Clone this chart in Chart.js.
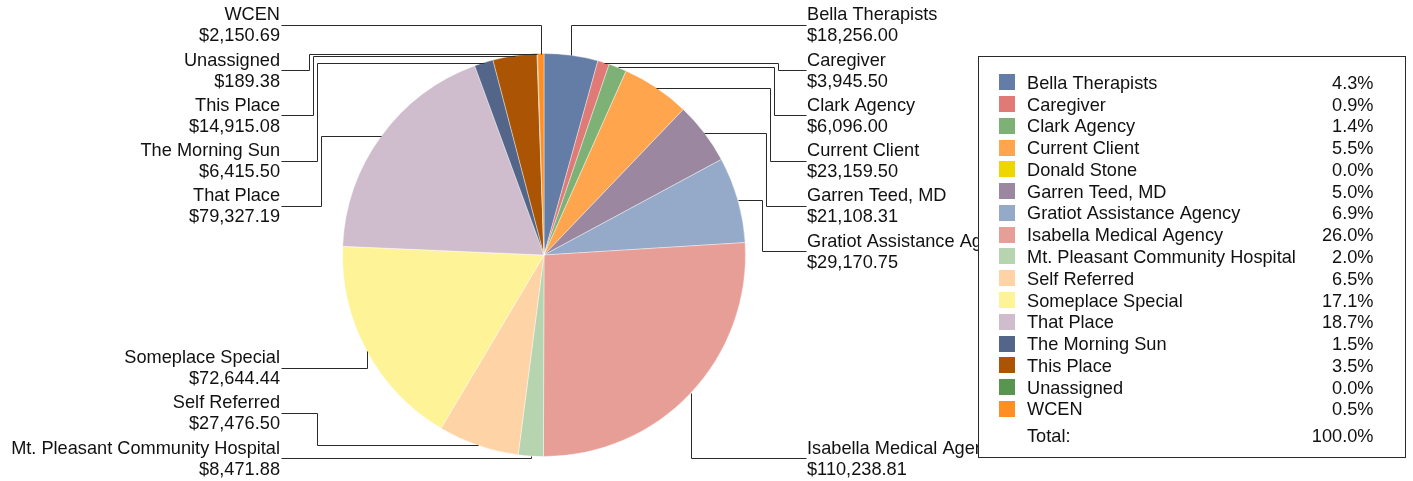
<!DOCTYPE html>
<html>
<head>
<meta charset="utf-8">
<script src="https://cdn.jsdelivr.net/npm/chart.js@4/dist/chart.umd.min.js"></script>
<style>
  html, body { margin: 0; padding: 0; background: #fff; }
  #wrap { width: 1413px; height: 481px; position: relative; }
</style>
</head>
<body>
<div id="wrap"><canvas id="c"></canvas></div>
<script>
const categories = [
  'Bella Therapists', 'Caregiver', 'Clark Agency', 'Current Client', 'Donald Stone',
  'Garren Teed, MD', 'Gratiot Assistance Agency', 'Isabella Medical Agency',
  'Mt. Pleasant Community Hospital', 'Self Referred', 'Someplace Special', 'That Place',
  'The Morning Sun', 'This Place', 'Unassigned', 'WCEN'
];
const amounts = [
  18256.00, 3945.50, 6096.00, 23159.50, 0,
  21108.31, 29170.75, 110238.81,
  8471.88, 27476.50, 72644.44, 79327.19,
  6415.50, 14915.08, 189.38, 2150.69
];
const percentLabels = [
  '4.3%', '0.9%', '1.4%', '5.5%', '0.0%',
  '5.0%', '6.9%', '26.0%',
  '2.0%', '6.5%', '17.1%', '18.7%',
  '1.5%', '3.5%', '0.0%', '0.5%'
];
const totalLabel = 'Total:';
const totalPercent = '100.0%';
const colors = [
  '#637DA6', '#E07A77', '#7DB176', '#FEA54E', '#EED600',
  '#9B87A0', '#94AAC8', '#E79E96',
  '#B5D4AF', '#FED3A6', '#FEF497', '#CFBDCE',
  '#536689', '#AB5404', '#579550', '#FF8F24'
];

const FONT = '18.2px "Liberation Sans", Arial, sans-serif';
const TEXT = '#111111';
const LINE = '#2a2a2a';

function money(v) {
  return '$' + v.toLocaleString('en-US', { minimumFractionDigits: 2, maximumFractionDigits: 2 });
}
function px(v) { return Math.round(v) + 0.5; }

const calloutPlugin = {
  id: 'callouts',
  afterDatasetsDraw(chart) {
    const ctx = chart.ctx;
    const meta = chart.getDatasetMeta(0);
    const items = [];
    meta.data.forEach((arc, i) => {
      if (!(amounts[i] > 0)) return;
      const p = arc.getProps(['x', 'y', 'startAngle', 'endAngle', 'outerRadius'], true);
      const mid = (p.startAngle + p.endAngle) / 2;
      const c = Math.cos(mid), s = Math.sin(mid);
      items.push({
        i, cx: p.x, cy: p.y, r: p.outerRadius,
        ex: p.x + p.outerRadius * c, ey: p.y + p.outerRadius * s,
        side: c >= 0 ? 1 : -1,
        ideal: p.y + 1.5 * p.outerRadius * s
      });
    });
    const GAP = 45.25, MINY = 24.75, MAXY = 458;
    [1, -1].forEach(side => {
      const list = items.filter(it => it.side === side).sort((a, b) => a.ideal - b.ideal);
      list.forEach((it, k) => {
        let y = Math.min(Math.max(it.ideal, MINY), MAXY);
        if (k > 0) y = Math.max(y, list[k - 1].ly + GAP);
        it.ly = y;
      });
      for (let k = list.length - 1; k >= 0; k--) {
        let y = list[k].ly;
        if (k < list.length - 1) y = Math.min(y, list[k + 1].ly - GAP);
        else y = Math.min(y, MAXY);
        list[k].ly = y;
      }
      let down = 0, up = 0;
      list.forEach(it => {
        it.typeA = (it.ly - it.ey) * (it.ey - it.cy) >= 0;
        if (!it.typeA) {
          if (it.ly > it.ey) { down++; it.stagger = down; }
          else { up++; it.stagger = up + 2; }
        }
      });
    });

    ctx.save();
    ctx.strokeStyle = LINE;
    ctx.lineWidth = 1;
    ctx.font = FONT;
    ctx.fillStyle = TEXT;
    items.forEach(it => {
      const lineEnd = it.side > 0 ? it.cx + 262 : it.cx - 263;
      const textX = it.side > 0 ? it.cx + 263 : it.cx - 264;
      ctx.beginPath();
      ctx.moveTo(px(it.ex), px(it.ey));
      if (it.typeA) {
        ctx.lineTo(px(it.ex), px(it.ly));
      } else {
        const elbow = lineEnd - it.side * (24 + 4 * it.stagger);
        ctx.lineTo(px(elbow), px(it.ey));
        ctx.lineTo(px(elbow), px(it.ly));
      }
      ctx.lineTo(px(lineEnd), px(it.ly));
      ctx.stroke();

      ctx.textAlign = it.side > 0 ? 'left' : 'right';
      ctx.textBaseline = 'alphabetic';
      ctx.fillText(categories[it.i], textX, it.ly - 4.3);
      ctx.fillText(money(amounts[it.i]), textX, it.ly + 16.5);
    });
    ctx.restore();
  },
  afterDraw(chart) {
    const ctx = chart.ctx;
    ctx.save();
    ctx.fillStyle = '#ffffff';
    ctx.fillRect(978.5, 56.5, 427, 401);
    ctx.strokeStyle = LINE;
    ctx.lineWidth = 1;
    ctx.strokeRect(978.5, 56.5, 427, 401);
    ctx.font = FONT;
    ctx.textBaseline = 'alphabetic';
    categories.forEach((name, i) => {
      const cy = 82.3 + i * 21.77;
      ctx.fillStyle = colors[i];
      ctx.fillRect(999, Math.round(cy - 8), 16, 16);
      ctx.fillStyle = TEXT;
      ctx.textAlign = 'left';
      ctx.fillText(name, 1027, cy + 6.5);
      ctx.textAlign = 'right';
      ctx.fillText(percentLabels[i], 1373.5, cy + 6.5);
    });
    const ty = 435;
    ctx.fillStyle = TEXT;
    ctx.textAlign = 'left';
    ctx.fillText(totalLabel, 1027, ty + 6.5);
    ctx.textAlign = 'right';
    ctx.fillText(totalPercent, 1373.5, ty + 6.5);
    ctx.restore();
  }
};

new Chart(document.getElementById('c'), {
  type: 'pie',
  data: {
    labels: categories,
    datasets: [{
      data: amounts,
      backgroundColor: colors,
      borderColor: 'rgba(255,255,255,0.55)',
      borderWidth: 0.7
    }]
  },
  options: {
    responsive: true,
    maintainAspectRatio: false,
    animation: false,
    radius: 201.5,
    layout: { padding: { left: 300, right: 625, top: 40, bottom: 11 } },
    plugins: {
      legend: { display: false },
      tooltip: { enabled: false }
    }
  },
  plugins: [calloutPlugin]
});
</script>
</body>
</html>
